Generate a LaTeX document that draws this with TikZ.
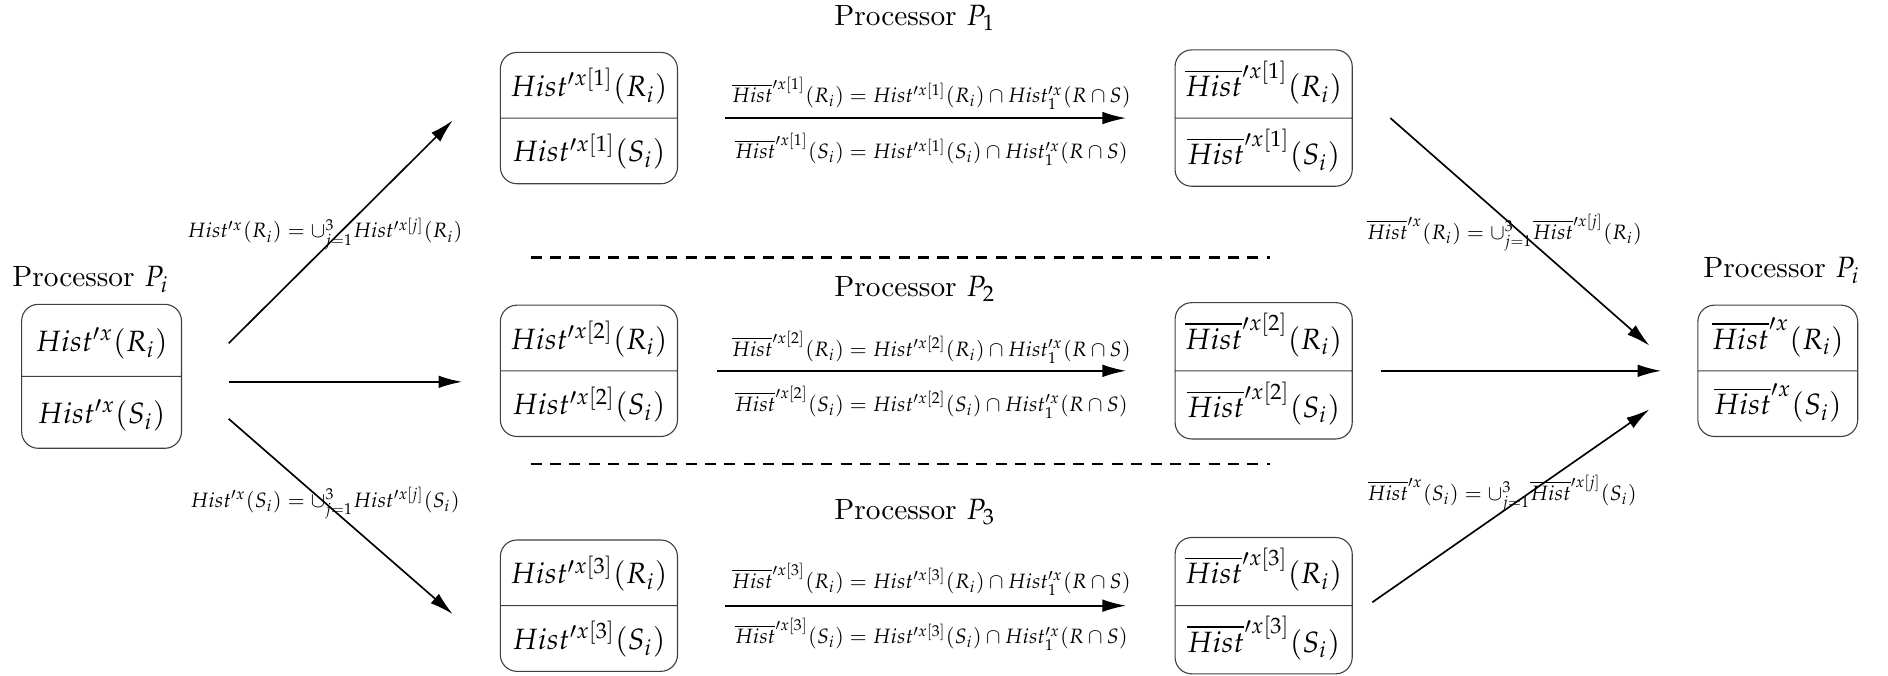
\documentclass[tikz,border=0pt]{standalone}
\usepackage{amssymb}
\usepackage{amsmath}
\usepackage{mathpazo}
\usepackage{tikz}
\usepackage{xcolor}
\usetikzlibrary{arrows.meta, positioning, shapes.multipart, calc}

\newcommand{\histbar}{\overline{Hist}}
\newcommand{\hcell}[1]{\rule[-0.14cm]{0pt}{0.56cm}$#1$}

\begin{document}
\begin{tikzpicture}[scale=1.0,
    every node/.style={font=\fontsize{10.6}{13}\selectfont},
    histbox/.style={draw=black!75, rounded corners=6pt, rectangle split, rectangle split parts=2,
        minimum width=2.25cm, inner ysep=0.13cm},
    eqlabel/.style={font=\fontsize{7.5}{9}\selectfont},
    flow/.style={-{Latex[length=3mm, width=1.6mm]}, semithick}]
    \useasboundingbox (0,0) rectangle (23.98,8.58);

    % source processor
    \node (srclbl) at (1.15,5.03) {Processor $P_i$};
    \node[histbox, minimum width=2.03cm, inner ysep=0.17cm] (src) at (1.29,3.80)
        {\hcell{Hist'^{x}(R_i)} \nodepart{two} \hcell{Hist'^{x}(S_i)}};

    % processors P_1, P_2, P_3
    \node (p1lbl) at (11.62,8.35) {Processor $P_1$};
    \node (p2lbl) at (11.62,4.91) {Processor $P_2$};
    \node (p3lbl) at (11.62,2.08) {Processor $P_3$};

    \node[histbox] (in1) at (7.48,7.08) {\hcell{Hist'^{x[1]}(R_i)} \nodepart{two} \hcell{Hist'^{x[1]}(S_i)}};
    \node[histbox] (in2) at (7.48,3.87) {\hcell{Hist'^{x[2]}(R_i)} \nodepart{two} \hcell{Hist'^{x[2]}(S_i)}};
    \node[histbox] (in3) at (7.48,0.887) {\hcell{Hist'^{x[3]}(R_i)} \nodepart{two} \hcell{Hist'^{x[3]}(S_i)}};

    \node[histbox] (out1) at (16.05,7.08) {\hcell{\histbar'^{x[1]}(R_i)} \nodepart{two} \hcell{\histbar'^{x[1]}(S_i)}};
    \node[histbox] (out2) at (16.05,3.87) {\hcell{\histbar'^{x[2]}(R_i)} \nodepart{two} \hcell{\histbar'^{x[2]}(S_i)}};
    \node[histbox] (out3) at (16.05,0.887) {\hcell{\histbar'^{x[3]}(R_i)} \nodepart{two} \hcell{\histbar'^{x[3]}(S_i)}};

    % result processor
    \node (dstlbl) at (22.63,5.14) {Processor $P_i$};
    \node[histbox, minimum width=2.03cm] (dst) at (22.58,3.87)
        {\hcell{\histbar'^{x}(R_i)} \nodepart{two} \hcell{\histbar'^{x}(S_i)}};

    % separators
    \draw[thick, dash pattern=on 4pt off 3pt] (6.74,5.31) -- (16.13,5.31);
    \draw[thick, dash pattern=on 4pt off 3pt] (6.74,2.69) -- (16.13,2.69);

    % arrow ends
    \coordinate (s1) at (2.905,4.22);
    \coordinate (s2) at (2.905,3.73);
    \coordinate (s3) at (2.905,3.26);
    \coordinate (e1) at (5.75,7.05);
    \coordinate (e2) at (5.87,3.73);
    \coordinate (e3) at (5.75,0.78);
    \coordinate (r1) at (17.66,7.08);
    \coordinate (r2) at (17.54,3.87);
    \coordinate (r3) at (17.43,0.93);
    \coordinate (t1) at (20.95,4.19);
    \coordinate (t2) at (21.10,3.87);
    \coordinate (t3) at (20.95,3.38);

    % scatter
    \draw[flow] (s1) -- (e1);
    \draw[flow] (s2) -- (e2);
    \draw[flow] (s3) -- (e3);
    \node[eqlabel] (sc1) at (4.13,5.61) {$Hist'^{x}(R_i) = \cup_{j=1}^{3} Hist'^{x[j]}(R_i)$};
    \node[eqlabel] (sc2) at (4.13,2.19) {$Hist'^{x}(S_i) = \cup_{j=1}^{3} Hist'^{x[j]}(S_i)$};

    % local filtering
    \draw[flow] ($(in1.east)+(0.595,0)$) -- ($(out1.west)+(-0.615,0)$);
    \draw[flow] ($(in2.east)+(0.495,0)$) -- ($(out2.west)+(-0.615,0)$);
    \draw[flow] ($(in3.east)+(0.595,0)$) -- ($(out3.west)+(-0.615,0)$);
    \node[eqlabel] (f1a) at (11.83,7.39) {$\histbar'^{x[1]}(R_i) = Hist'^{x[1]}(R_i) \cap Hist^{\prime x}_1(R \cap S)$};
    \node[eqlabel] (f1b) at (11.83,6.68) {$\histbar'^{x[1]}(S_i) = Hist'^{x[1]}(S_i) \cap Hist^{\prime x}_1(R \cap S)$};
    \node[eqlabel] (f2a) at (11.83,4.17) {$\histbar'^{x[2]}(R_i) = Hist'^{x[2]}(R_i) \cap Hist^{\prime x}_1(R \cap S)$};
    \node[eqlabel] (f2b) at (11.83,3.47) {$\histbar'^{x[2]}(S_i) = Hist'^{x[2]}(S_i) \cap Hist^{\prime x}_1(R \cap S)$};
    \node[eqlabel] (f3a) at (11.83,1.22) {$\histbar'^{x[3]}(R_i) = Hist'^{x[3]}(R_i) \cap Hist^{\prime x}_1(R \cap S)$};
    \node[eqlabel] (f3b) at (11.83,0.52) {$\histbar'^{x[3]}(S_i) = Hist'^{x[3]}(S_i) \cap Hist^{\prime x}_1(R \cap S)$};

    % gather
    \draw[flow] (r1) -- (t1);
    \draw[flow] (r2) -- (t2);
    \draw[flow] (r3) -- (t3);
    \node[eqlabel] (g1) at (19.11,5.63) {$\histbar'^{x}(R_i) = \cup_{j=1}^{3} \histbar'^{x[j]}(R_i)$};
    \node[eqlabel] (g2) at (19.08,2.31) {$\histbar'^{x}(S_i) = \cup_{j=1}^{3} \histbar'^{x[j]}(S_i)$};
\end{tikzpicture}
\end{document}
